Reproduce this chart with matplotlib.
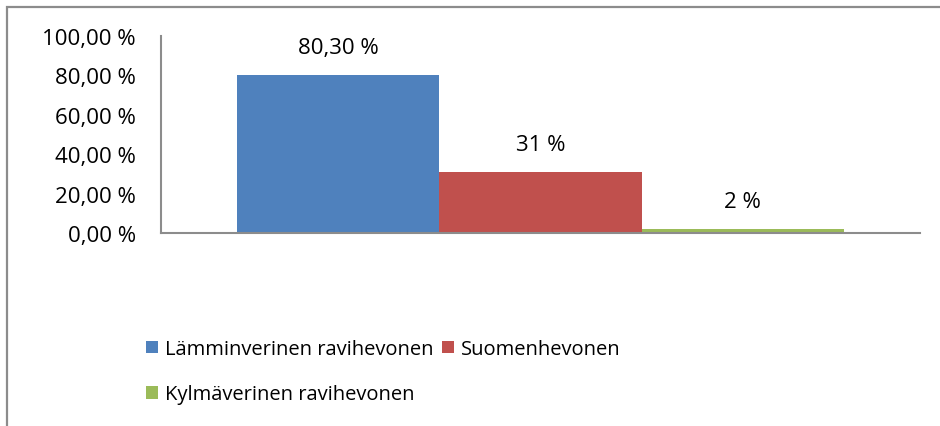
import matplotlib.pyplot as plt
from matplotlib.patches import Rectangle
from matplotlib.ticker import FuncFormatter

categories = ['Lämminverinen ravihevonen', 'Suomenhevonen', 'Kylmäverinen ravihevonen']
values = [80.3, 31, 2]
value_labels = ['80,30 %', '31 %', '2 %']
colors = ['#4F81BD', '#C0504D', '#9BBB59']

plt.rcParams['font.family'] = ['Open Sans', 'DejaVu Sans']

fig = plt.figure(figsize=(9.4, 4.27), dpi=100)
ax = fig.add_axes([161/940, 1 - 234/427, 759/940, 197/427])

# outer chart frame (only left and top visible, rest cropped)
fig.patches.append(Rectangle((7/940, -0.5), 2, 1.5 - 8/427, transform=fig.transFigure,
                             fill=False, edgecolor='#8c8c8c', lw=1.6))

w = 0.8 / len(values)
bars = []
for i, (cat, v, c) in enumerate(zip(categories, values, colors)):
    x = -0.4 + w * (i + 0.5)
    b = ax.bar(x, v, width=w, color=c, label=cat)
    bars.append(b)
    ax.annotate(value_labels[i], (x, v), xytext=(0, 20), textcoords='offset points',
                ha='center', va='center', fontsize=16)

ax.set_xlim(-0.5, 0.5)
ax.set_ylim(0, 100)
ax.set_yticks(range(0, 101, 20))
ax.yaxis.set_major_formatter(FuncFormatter(lambda v, p: f'{v:.2f}'.replace('.', ',') + ' %'))
ax.set_xticks([])
ax.tick_params(axis='y', length=0, pad=18, labelsize=16)
for s in ['top', 'right']:
    ax.spines[s].set_visible(False)
for s in ['left', 'bottom']:
    ax.spines[s].set_color('#8c8c8c')
    ax.spines[s].set_linewidth(1.5)

handles = [bars[0], bars[2], bars[1]]
labels = [categories[0], categories[2], categories[1]]
fig.legend(handles, labels, ncol=2, loc='upper left', bbox_to_anchor=(128/940, 1 - 322/427),
           frameon=False, fontsize=14.5, handlelength=0.6, handleheight=0.6,
           handletextpad=0.35, columnspacing=0.4, labelspacing=1.25)

fig.savefig('out.png', dpi=100)
